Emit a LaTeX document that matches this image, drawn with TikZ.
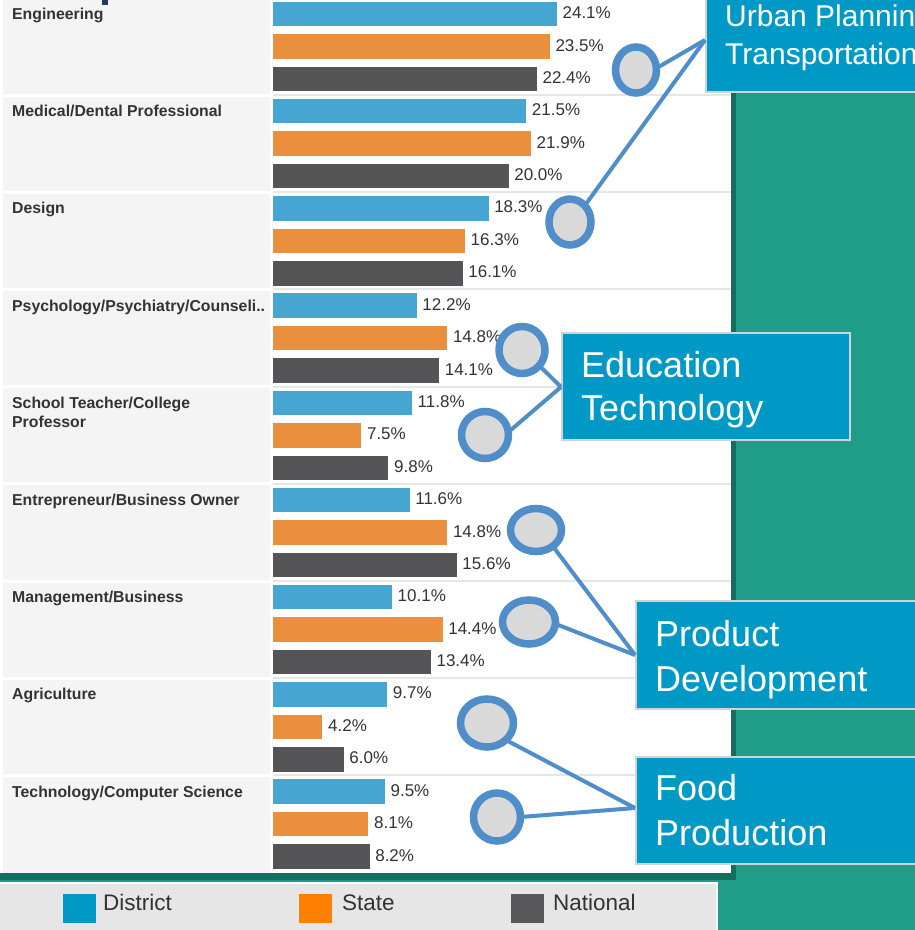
\documentclass[tikz,border=0pt]{standalone}
\usepackage{fontspec}
\setmainfont{Liberation Sans}
\usetikzlibrary{shapes.geometric}
\definecolor{tealbg}{RGB}{31,157,137}
\definecolor{tealdark}{RGB}{22,108,94}
\definecolor{barblue}{RGB}{70,166,209}
\definecolor{barorange}{RGB}{233,143,62}
\definecolor{bardark}{RGB}{85,85,88}
\definecolor{labelbg}{RGB}{244,244,244}
\definecolor{sepgray}{RGB}{230,230,230}
\definecolor{txtgray}{RGB}{51,51,51}
\definecolor{boxblue}{RGB}{0,153,198}
\definecolor{boxedge}{RGB}{210,210,210}
\definecolor{ringblue}{RGB}{80,142,202}
\definecolor{ringfill}{RGB}{217,217,217}
\definecolor{legbg}{RGB}{230,230,230}
\definecolor{legblue}{RGB}{0,153,198}
\definecolor{legorange}{RGB}{255,127,0}
\definecolor{legdark}{RGB}{88,88,90}
\definecolor{navymark}{RGB}{31,56,100}
\tikzset{
  valtext/.style={anchor=base west, inner sep=0pt, text=txtgray, font=\fontsize{17}{20}\selectfont},
  labtext/.style={anchor=base west, inner sep=0pt, text=txtgray, font=\fontsize{15.8}{19}\selectfont\bfseries},
  cboxstyle/.style={draw=boxedge, line width=2pt, fill=boxblue, inner sep=0pt},
  ctext/.style={anchor=base west, inner sep=0pt, text=white, font=\fontsize{36}{43}\selectfont},
  ctextsmall/.style={anchor=base west, inner sep=0pt, text=white, font=\fontsize{30}{38}\selectfont},
  ring/.style={ellipse, draw=ringblue, fill=ringfill, line width=7.5pt, inner sep=0pt, outer sep=0pt},
  conn/.style={draw=ringblue, line width=4pt},
  legtext/.style={anchor=base west, inner sep=0pt, text=txtgray, font=\fontsize{22.5}{26}\selectfont}
}
\newcommand{\barsgroup}[4]{%
  \pgfmathsetmacro{\gy}{1.7+97.2*#1}%
  \foreach \v/\col/\off [count=\i] in {#2/barblue/0,#3/barorange/32.5,#4/bardark/65}{%
    \pgfmathsetmacro{\ty}{\gy+\off}%
    \pgfmathsetmacro{\tx}{273+11.78*\v}%
    \fill[\col] (273,\ty) rectangle (\tx,\ty+24.5);
    \node[valtext] (v#1-\i) at (\tx+5.5,\ty+16.8) {\v\%};
  }%
}
\begin{document}
\begin{tikzpicture}[x=1pt,y=-1pt]
\useasboundingbox (0,0) rectangle (915,930);
\clip (0,0) rectangle (915,930);
% backgrounds
\fill[tealbg] (0,0) rectangle (915,930);
\fill[tealdark] (0,0) rectangle (736,880);
\fill[white] (0,0) rectangle (731,873);
\fill[labelbg] (3,0) rectangle (270,873);
\foreach \k in {0,...,7}{%
  \pgfmathsetmacro{\sy}{95+97.2*\k}%
  \draw[white, line width=3pt] (3,\sy) -- (270,\sy);
  \draw[sepgray, line width=2pt] (273,\sy) -- (731,\sy);
}
\fill[navymark] (102,0) rectangle (108,5);
% category labels
\node[labtext] (l0) at (12,19.5) {Engineering};
\node[labtext] (l1) at (12,116.7) {Medical/Dental Professional};
\node[labtext] (l2) at (12,213.9) {Design};
\node[labtext] (l3) at (12,311.1) {Psychology/Psychiatry/Counseli..};
\node[labtext] (l4a) at (12,408.3) {School Teacher/College};
\node[labtext] (l4b) at (12,427) {Professor};
\node[labtext] (l5) at (12,505.5) {Entrepreneur/Business Owner};
\node[labtext] (l6) at (12,602.7) {Management/Business};
\node[labtext] (l7) at (12,699.9) {Agriculture};
\node[labtext] (l8) at (12,797.1) {Technology/Computer Science};
% bars
\barsgroup{0}{24.1}{23.5}{22.4}
\barsgroup{1}{21.5}{21.9}{20.0}
\barsgroup{2}{18.3}{16.3}{16.1}
\barsgroup{3}{12.2}{14.8}{14.1}
\barsgroup{4}{11.8}{7.5}{9.8}
\barsgroup{5}{11.6}{14.8}{15.6}
\barsgroup{6}{10.1}{14.4}{13.4}
\barsgroup{7}{9.7}{4.2}{6.0}
\barsgroup{8}{9.5}{8.1}{8.2}
% legend
\fill[legbg] (0,883) rectangle (717,930);
\draw[white, line width=1.5pt] (0,883) -- (717,883) -- (717,930);
\fill[legblue] (63,894) rectangle (96,923);
\fill[legorange] (299,894) rectangle (332,923);
\fill[legdark] (511,894) rectangle (544,923);
\node[legtext] (lgd) at (103,910.5) {District};
\node[legtext] (lgs) at (342,910.5) {State};
\node[legtext] (lgn) at (553,910.5) {National};
% callout boxes
\node[cboxstyle, anchor=south west, minimum width=240pt, minimum height=120pt] (ubox) at (705,93) {};
\node[cboxstyle, anchor=north west, minimum width=288pt, minimum height=107pt] (edbox) at (561,332) {};
\node[cboxstyle, anchor=north west, minimum width=300pt, minimum height=108pt] (pbox) at (635,600) {};
\node[cboxstyle, anchor=north west, minimum width=300pt, minimum height=107pt] (fbox) at (635,756) {};
\node[ctextsmall] (ut1) at (725,26) {Urban Planning};
\node[ctextsmall] (ut2) at (725,64.5) {Transportation};
\node[ctext] (et1) at (581,377) {Education};
\node[ctext] (et2) at (581,420) {Technology};
\node[ctext] (pt1) at (655,646) {Product};
\node[ctext] (pt2) at (655,691) {Development};
\node[ctext] (ft1) at (655,800) {Food};
\node[ctext] (ft2) at (655,845) {Production};
% connector end points on the boxes
\coordinate (ua) at (705,40);
\coordinate (ea) at (561,387);
\coordinate (pa) at (635,655);
\coordinate (fa) at (635,808);
% rings
\node[ring, minimum width=41pt, minimum height=46pt] (c1) at (636,70) {};
\node[ring, minimum width=42pt, minimum height=46pt] (c2) at (570,222) {};
\node[ring, minimum width=46pt, minimum height=47pt] (c3) at (522,350) {};
\node[ring, minimum width=47pt, minimum height=47pt] (c4) at (485,435) {};
\node[ring, minimum width=51pt, minimum height=43pt] (c5) at (536,530) {};
\node[ring, minimum width=53pt, minimum height=44pt] (c6) at (529,622) {};
\node[ring, minimum width=53pt, minimum height=48pt] (c7) at (487,723) {};
\node[ring, minimum width=47pt, minimum height=48pt] (c8) at (497,817) {};
% connectors
\draw[conn] (c1.5) -- (ua);
\draw[conn] (c2.48) -- (ua);
\draw[conn] (c3.-42) -- (ea);
\draw[conn] (c4.7) -- (ea);
\draw[conn] (c5.-44) -- (pa);
\draw[conn] (c6.-4) -- (pa);
\draw[conn] (c7.-42) -- (fa);
\draw[conn] (c8.0) -- (fa);
\end{tikzpicture}
\end{document}
